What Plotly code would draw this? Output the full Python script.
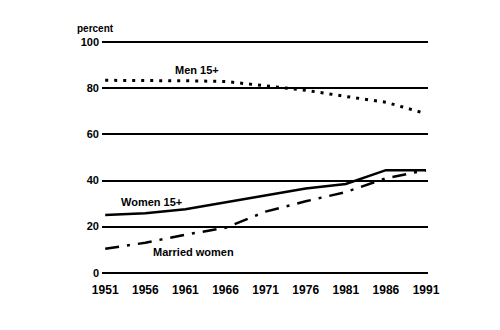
import plotly.graph_objects as go

years = [1951, 1956, 1961, 1966, 1971, 1976, 1981, 1986, 1991]
men_years = [1951, 1956, 1961, 1966, 1971, 1976, 1981, 1986, 1988, 1991]
men = [83.5, 83.5, 83.3, 83.0, 81.0, 79.2, 76.5, 74.0, 72.0, 69.0]
women = [25.0, 25.8, 27.5, 30.5, 33.5, 36.5, 38.5, 44.5, 44.5]
married = [10.4, 13.0, 16.5, 19.5, 26.5, 31.0, 35.0, 41.0, 44.5]
tick_years = [1951, 1956, 1961, 1966, 1971, 1976, 1981, 1986, 1991]
y_ticks = [0, 20, 40, 60, 80, 100]

font = dict(family="Liberation Sans, Arial, sans-serif", size=11, color="black")

fig = go.Figure()
fig.add_trace(go.Scatter(x=men_years, y=men, mode="lines",
                         line=dict(color="black", width=3, dash="3px,6px"),
                         showlegend=False))
fig.add_trace(go.Scatter(x=years, y=women, mode="lines",
                         line=dict(color="black", width=2.5),
                         showlegend=False))
fig.add_trace(go.Scatter(x=years, y=married, mode="lines",
                         line=dict(color="black", width=2.5, dash="14px,8px,3px,8px"),
                         showlegend=False))

fig.add_annotation(x=1962.5, y=84.5, text="<b>Men 15+</b>", showarrow=False,
                   xanchor="center", yanchor="bottom", font=font)
fig.add_annotation(x=1956.8, y=30.5, text="<b>Women 15+</b>", showarrow=False,
                   xanchor="center", yanchor="middle", font=font)
fig.add_annotation(x=1962.0, y=9.0, text="<b>Married women</b>", showarrow=False,
                   xanchor="center", yanchor="middle", font=font)
fig.add_annotation(x=0, xref="paper", xshift=-27, y=1, yref="paper", yshift=12,
                   text="<b>percent</b>",
                   showarrow=False, xanchor="left", yanchor="middle",
                   font=dict(family=font["family"], size=10, color="black"))

fig.update_layout(
    width=500, height=330,
    margin=dict(l=102, r=72, t=40, b=55),
    paper_bgcolor="white", plot_bgcolor="white",
    font=font,
    xaxis=dict(range=[1950.6, 1991.25], tickmode="array", tickvals=tick_years,
               ticktext=[f"<b>{y}</b>" for y in tick_years],
               tickfont=dict(family=font["family"], size=12, color="black"),
               showgrid=False, zeroline=False, showline=False, ticks="",
               ticklabelstandoff=6),
    yaxis=dict(range=[-1, 101], tickmode="array", tickvals=y_ticks,
               ticktext=[f"<b>{v}</b>" for v in y_ticks],
               showgrid=True, gridcolor="black", gridwidth=2,
               zeroline=True, zerolinecolor="black", zerolinewidth=2,
               showline=False, ticks="", ticklabelstandoff=2),
)

fig.write_html("out.html")
